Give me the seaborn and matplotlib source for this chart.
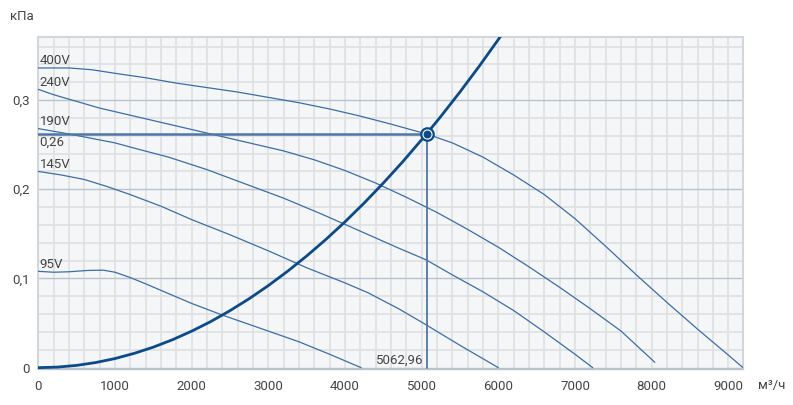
import matplotlib
matplotlib.use("Agg")
import matplotlib.pyplot as plt
import seaborn as sns
import pandas as pd
import numpy as np

# fan curves, flow in m3/h, pressure in kPa
q_400 = [0, 400, 700, 1000, 1400, 1800, 2200, 2600, 3000, 3400, 3800, 4200, 4600, 5063,
         5400, 5800, 6200, 6600, 7000, 7400, 7800, 8200, 8600, 9000, 9190]
p_400 = [0.336, 0.336, 0.334, 0.330, 0.325, 0.319, 0.314, 0.309, 0.303, 0.297, 0.290, 0.282, 0.273, 0.262,
         0.252, 0.236, 0.216, 0.194, 0.167, 0.136, 0.104, 0.073, 0.043, 0.014, 0.0]

q_240 = [0, 200, 400, 800, 1200, 1600, 2000, 2400, 2800, 3200, 3600, 4000, 4400, 4800,
         5200, 5600, 6000, 6400, 6800, 7200, 7600, 8040]
p_240 = [0.312, 0.306, 0.301, 0.291, 0.283, 0.275, 0.267, 0.259, 0.251, 0.243, 0.233, 0.221, 0.207, 0.191,
         0.174, 0.155, 0.135, 0.113, 0.090, 0.066, 0.041, 0.006]

q_190 = [0, 200, 400, 700, 1000, 1300, 1700, 2200, 2700, 3200, 3700, 4200, 4700, 5055,
         5400, 5800, 6200, 6600, 7000, 7230]
p_190 = [0.268, 0.265, 0.262, 0.257, 0.252, 0.245, 0.236, 0.222, 0.206, 0.190, 0.172, 0.153, 0.134, 0.121,
         0.104, 0.085, 0.064, 0.040, 0.015, 0.0]

q_145 = [0, 300, 600, 900, 1200, 1600, 2000, 2500, 3000, 3500, 4000, 4300, 4700, 5000, 5500, 6000]
p_145 = [0.220, 0.216, 0.211, 0.203, 0.194, 0.181, 0.166, 0.149, 0.131, 0.112, 0.095, 0.084, 0.066, 0.051, 0.025, 0.0]

q_95 = [0, 200, 400, 650, 850, 1000, 1200, 1400, 1700, 2000, 2400, 2800, 3000, 3400, 3800, 4210]
p_95 = [0.108, 0.107, 0.1075, 0.109, 0.1093, 0.107, 0.101, 0.094, 0.083, 0.072, 0.059, 0.047, 0.041, 0.029, 0.015, 0.0]

fan_labels = ["400V", "240V", "190V", "145V", "95V"]

# system (network) curve
q_sys = [0, 250, 500, 750, 1000, 1250, 1500, 1750, 2000, 2250, 2500, 2750, 3000, 3250, 3500,
         3750, 4000, 4250, 4500, 4750, 5063, 5250, 5500, 5750, 6000, 6100]
p_sys = [0, 0.00064, 0.00256, 0.00575, 0.0102, 0.0160, 0.0230, 0.0313, 0.0409, 0.0517, 0.0639,
         0.0773, 0.0920, 0.1080, 0.1252, 0.1437, 0.1635, 0.1846, 0.2070, 0.2306, 0.262, 0.2817,
         0.3092, 0.3379, 0.3680, 0.3803]

# operating point
q_op = 5062.96
p_op = 0.262
q_op_label = "5062,96"
p_op_label = "0,26"

x_ticks = [0, 1000, 2000, 3000, 4000, 5000, 6000, 7000, 8000, 9000]
y_ticks = [0, 0.1, 0.2, 0.3]
y_tick_labels = ["0", "0,1", "0,2", "0,3"]

fan_q = [q_400, q_240, q_190, q_145, q_95]
fan_p = [p_400, p_240, p_190, p_145, p_95]

rows = []
for name, qs, ps in zip(fan_labels, fan_q, fan_p):
    for q, p in zip(qs, ps):
        rows.append({"fan": name, "q": q, "p": p})
fans = pd.DataFrame(rows)
system = pd.DataFrame({"q": q_sys, "p": p_sys})

sns.set_style("white")
plt.rcParams["font.family"] = ["Roboto", "DejaVu Sans"]

text_color = "#444444"
curve_color = "#3b6ea8"
sys_color = "#0b4a8b"
op_color = "#4f77a8"
fs = 9.5

fig = plt.figure(figsize=(7.93, 4.05), dpi=100)
ax = fig.add_axes([37.5 / 793, 36 / 405, (743 - 37.5) / 793, (369 - 37) / 405])
ax.set_facecolor("#f4f6f8")

sns.lineplot(data=fans, x="q", y="p", hue="fan", units="fan", estimator=None, sort=False,
             palette=[curve_color] * len(fan_labels), linewidth=0.9, legend=False, ax=ax, zorder=3)
sns.lineplot(data=system, x="q", y="p", sort=False, color=sys_color, linewidth=2.0, ax=ax, zorder=4)

# operating point guides
ax.plot([0, q_op], [p_op, p_op], color=op_color, linewidth=1.8, zorder=3.5)
ax.plot([q_op, q_op], [0, p_op], color=op_color, linewidth=1.3, zorder=3.5)
ax.scatter([q_op], [p_op], s=80, facecolor="white", edgecolor=sys_color, linewidth=1.6, zorder=5)
ax.scatter([q_op], [p_op], s=22, color=sys_color, zorder=6)

# curve labels
for name, ps in zip(fan_labels, fan_p):
    ax.annotate(name, (0, ps[0]), xytext=(1, 0.5), textcoords="offset points",
                ha="left", va="bottom", fontsize=fs, color=text_color, zorder=6)
ax.annotate(p_op_label, (0, p_op), xytext=(1, -1.5), textcoords="offset points",
            ha="left", va="top", fontsize=fs, color=text_color, zorder=6)
ax.annotate(q_op_label, (q_op, 0), xytext=(-2, 1), textcoords="offset points",
            ha="right", va="bottom", fontsize=fs, color=text_color, zorder=6)

ax.set_xlim(-10, 9190)
ax.set_ylim(-0.0015, 0.3707)
ax.set_xticks(x_ticks)
ax.set_xticks(np.arange(0, 9200, 200), minor=True)
ax.set_yticks(y_ticks)
ax.set_yticklabels(y_tick_labels)
ax.set_yticks(np.arange(0, 0.37, 0.02), minor=True)

ax.set_axisbelow(True)
ax.xaxis.grid(True, which="both", color="#dfe1e4", linewidth=1.3)
ax.yaxis.grid(True, which="minor", color="#dfe1e4", linewidth=1.3)
ax.yaxis.grid(True, which="major", color="#b9c3ce", linewidth=1.0)

ax.tick_params(which="major", length=4, width=1, color="#b9c3ce", labelsize=fs,
               labelcolor=text_color)
ax.tick_params(axis="y", which="major", pad=1.5)
ax.tick_params(axis="x", which="major", pad=4)
ax.tick_params(which="minor", length=0)
ax.set_xlabel("")
ax.set_ylabel("")

for side in ["top", "right", "left"]:
    ax.spines[side].set_color("#d3d6da")
    ax.spines[side].set_linewidth(1.5)
ax.spines["bottom"].set_color("#b9c3ce")
ax.spines["bottom"].set_linewidth(1.0)

fig.text(10 / 793, 1 - 17 / 405, "кПа", ha="left", va="center", fontsize=fs, color=text_color)
fig.text(758 / 793, 1 - 385 / 405, "м³/ч", ha="left", va="center", fontsize=fs, color=text_color)

fig.savefig("out.png", dpi=100)
